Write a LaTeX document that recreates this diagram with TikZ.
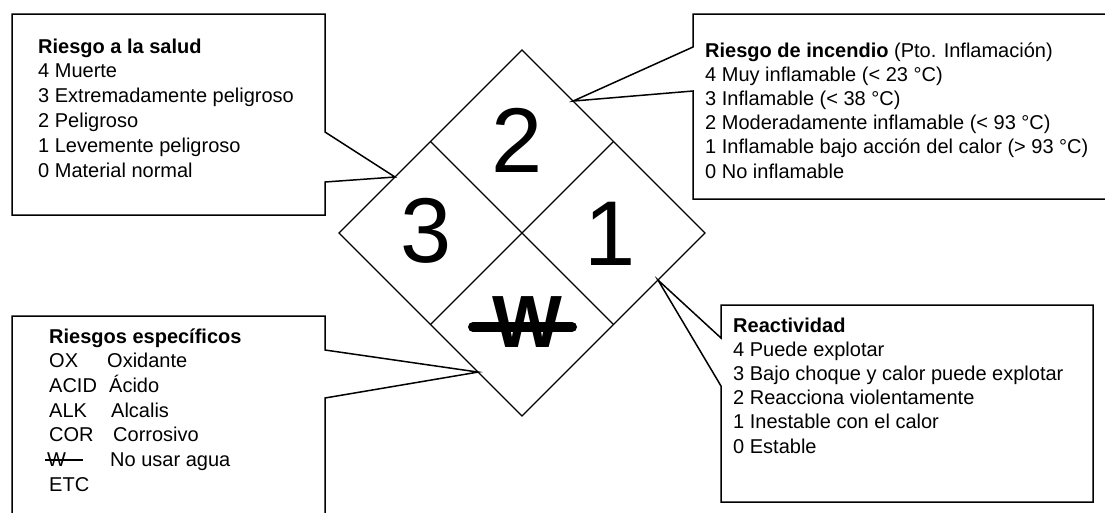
\documentclass[tikz,border=0pt]{standalone}
\usepackage{fontspec}
\setmainfont{Liberation Sans}
\usetikzlibrary{calc}

\begin{document}
\begin{tikzpicture}[x=1pt,y=-1pt,
    txt/.style={anchor=base west, inner sep=0pt, font=\fontsize{20}{24}\selectfont},
    head/.style={txt, font=\fontsize{20}{24}\selectfont\bfseries},
    callout/.style={draw, line width=1.5pt, line join=miter},
    num/.style={inner sep=0pt, font=\fontsize{92}{92}\selectfont}]
    \useasboundingbox (0,0) rectangle (1105,512);
    % rombo
    \coordinate (L) at (339,233);
    \coordinate (T) at (522,50);
    \coordinate (R) at (705,233);
    \coordinate (B) at (522,416);
    \draw[line width=1.2pt] (L) -- (T) -- (R) -- (B) -- cycle;
    \draw[line width=1.2pt] ($(L)!0.5!(T)$) -- ($(R)!0.5!(B)$);
    \draw[line width=1.2pt] ($(T)!0.5!(R)$) -- ($(B)!0.5!(L)$);
    \node[num] (fuego) at (517,140) {2};
    \node[num] (salud) at (426,231) {3};
    \node[num] (reac) at (610,234) {1};
    \node[inner sep=0pt, font=\fontsize{74}{74}\selectfont\bfseries] (agua) at (527,322) {W};
    \draw[line width=10pt, line cap=round] (473,327) -- (572,327);
    % puntas
    \coordinate (tipS) at ($(L)!0.306!(T)$);
    \coordinate (tipF) at ($(T)!0.279!(R)$);
    \coordinate (tipR) at ($(R)!0.257!(B)$);
    \coordinate (tipE) at ($(L)!0.76!(B)$);
    % cuadros
    \draw[callout] (12,14) -- (325,14) -- (325,132) -- (tipS) -- (325,182) -- (325,215) -- (12,215) -- cycle;
    \draw[callout] (693,14) -- (1115,14) -- (1115,199) -- (693,199) -- (693,91) -- (tipF) -- (693,47) -- cycle;
    \draw[callout] (721,305) -- (1093,305) -- (1093,502) -- (721,502) -- (721,386) -- (tipR) -- (721,338) -- cycle;
    \draw[callout] (12,525) -- (12,316) -- (325,316) -- (325,350) -- (tipE) -- (325,398) -- (325,525);
    % riesgo a la salud
    \node[head] (hsalud) at (38,53) {Riesgo a la salud};
    \foreach \t [count=\i] in {4 Muerte, 3 Extremadamente peligroso, 2 Peligroso,
        1 Levemente peligroso, 0 Material normal}
        \node[txt] (salud\i) at (38,53+24.8*\i) {\t};
    % riesgo de incendio
    \node[txt] (hfuego) at (705,57) {\textbf{Riesgo de incendio} (Pto. Inflamación)};
    \foreach \t [count=\i] in {4 Muy inflamable (< 23 °C), 3 Inflamable (< 38 °C),
        2 Moderadamente inflamable (< 93 °C), 1 Inflamable bajo acción del calor (> 93 °C),
        0 No inflamable}
        \node[txt] (fuego\i) at (705,57+24.2*\i) {\t};
    % reactividad
    \node[head] (hreac) at (733,332) {Reactividad};
    \foreach \t [count=\i] in {4 Puede explotar, 3 Bajo choque y calor puede explotar,
        2 Reacciona violentamente, 1 Inestable con el calor, 0 Estable}
        \node[txt] (reac\i) at (733,332+24.2*\i) {\t};
    % riesgos especificos
    \node[head] (hesp) at (49,343) {Riesgos específicos};
    \node[txt] (ox) at (49,367.7) {OX};
    \node[txt] (oxt) at (107,367.7) {Oxidante};
    \node[txt] (acid) at (49,392.4) {ACID};
    \node[txt] (acidt) at (109,392.4) {Ácido};
    \node[txt] (alk) at (49,417.1) {ALK};
    \node[txt] (alkt) at (111,417.1) {Alcalis};
    \node[txt] (cor) at (49,441.8) {COR};
    \node[txt] (cort) at (113,441.8) {Corrosivo};
    \node[txt] (w) at (47,466.5) {W};
    \draw[line width=1.5pt] (45,460) -- (83,460);
    \node[txt] (wt) at (110,466.5) {No usar agua};
    \node[txt] (etc) at (49,491.2) {ETC};
\end{tikzpicture}
\end{document}
